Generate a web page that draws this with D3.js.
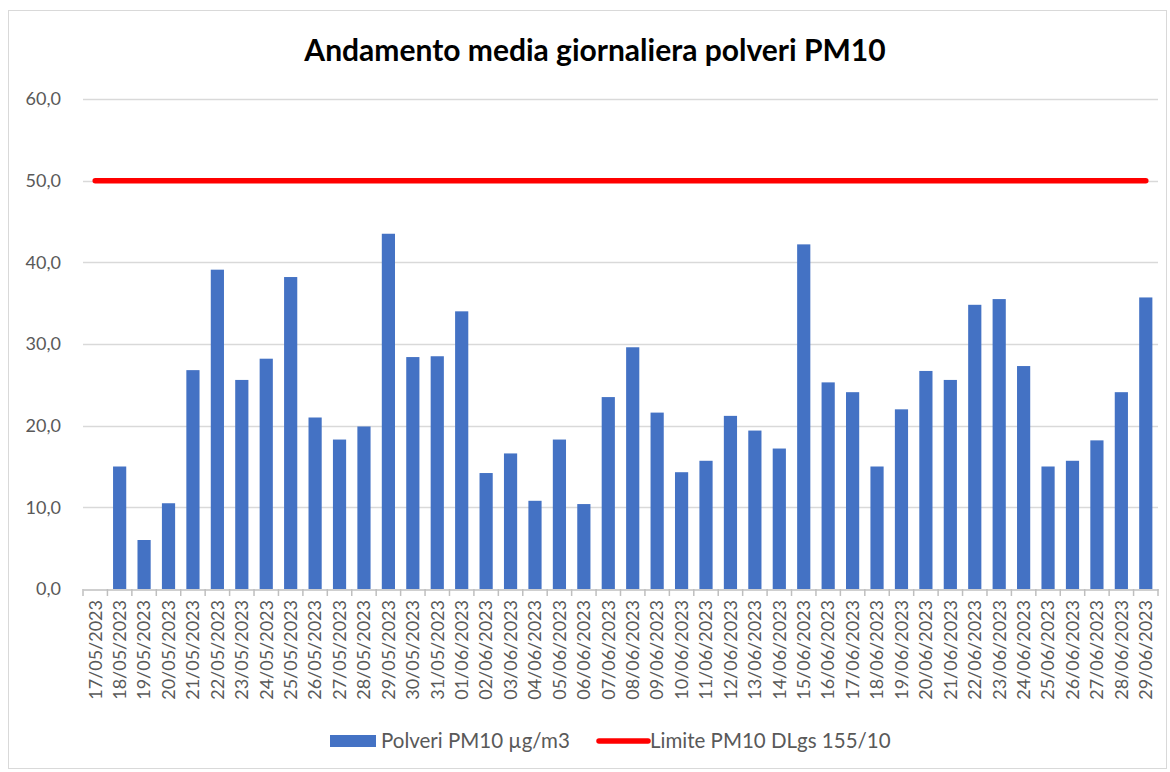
<!DOCTYPE html>
<html>
<head>
<meta charset="utf-8">
<script src="https://cdn.jsdelivr.net/npm/d3@7"></script>
<style>
  body { margin: 0; background: #fff; }
  svg { font-family: Lato, "Open Sans", sans-serif; }
</style>
</head>
<body>
<svg id="chart" width="1170" height="772"></svg>
<script>
// dates on the x axis
var dates = ["17/05/2023","18/05/2023","19/05/2023","20/05/2023","21/05/2023","22/05/2023","23/05/2023","24/05/2023",
  "25/05/2023","26/05/2023","27/05/2023","28/05/2023","29/05/2023","30/05/2023","31/05/2023","01/06/2023",
  "02/06/2023","03/06/2023","04/06/2023","05/06/2023","06/06/2023","07/06/2023","08/06/2023","09/06/2023",
  "10/06/2023","11/06/2023","12/06/2023","13/06/2023","14/06/2023","15/06/2023","16/06/2023","17/06/2023",
  "18/06/2023","19/06/2023","20/06/2023","21/06/2023","22/06/2023","23/06/2023","24/06/2023","25/06/2023",
  "26/06/2023","27/06/2023","28/06/2023","29/06/2023"];

// daily PM10 mean (null = no data)
var pm10 = [null, 15.0, 6.0, 10.5, 26.8, 39.1, 25.6, 28.2,
  38.2, 21.0, 18.3, 19.9, 43.5, 28.4, 28.5, 34.0,
  14.2, 16.6, 10.8, 18.3, 10.4, 23.5, 29.6, 21.6,
  14.3, 15.7, 21.2, 19.4, 17.2, 42.2, 25.3, 24.1,
  15.0, 22.0, 26.7, 25.6, 34.8, 35.5, 27.3, 15.0,
  15.7, 18.2, 24.1, 35.7];

var limite = 50;
var yTicks = [0, 10, 20, 30, 40, 50, 60];

var svg = d3.select("#chart");

// chart frame
svg.append("rect")
    .attr("x", 8.5).attr("y", 10.5)
    .attr("width", 1158).attr("height", 758)
    .attr("fill", "none")
    .attr("stroke", "#d9d9d9");

var x = d3.scaleBand().domain(dates).range([83, 1158]).padding(0);
var y = d3.scaleLinear().domain([0, 60]).range([589, 99]);
var fmt = function(v) { return d3.format(".1f")(v).replace(".", ","); };

// gridlines
svg.append("g").selectAll("line")
    .data(yTicks.filter(function(d) { return d > 0; }))
    .enter().append("line")
    .attr("x1", 83).attr("x2", 1158)
    .attr("y1", function(d) { return Math.round(y(d)) + 0.5; })
    .attr("y2", function(d) { return Math.round(y(d)) + 0.5; })
    .attr("stroke", "#d9d9d9")
    .attr("stroke-width", 1.5);

// y labels
svg.append("g").selectAll("text")
    .data(yTicks)
    .enter().append("text")
    .attr("x", 61)
    .attr("y", function(d) { return y(d); })
    .attr("dy", "0.35em")
    .attr("text-anchor", "end")
    .attr("fill", "#595959")
    .style("font-size", "18px")
    .text(fmt);

// bars
var bw = x.bandwidth() * 0.54;
svg.append("g").selectAll("rect")
    .data(dates.map(function(d, i) { return { date: d, v: pm10[i] }; }).filter(function(d) { return d.v != null; }))
    .enter().append("rect")
    .attr("x", function(d) { return x(d.date) + (x.bandwidth() - bw) / 2; })
    .attr("y", function(d) { return y(d.v); })
    .attr("width", bw)
    .attr("height", function(d) { return y(0) - y(d.v); })
    .attr("fill", "#4472c4");

// x axis
var xAxis = d3.axisBottom(x).tickSize(0).tickFormat("");
var gx = svg.append("g").attr("transform", "translate(0,589.5)").call(xAxis);
gx.select(".domain").attr("stroke", "#bfbfbf").attr("stroke-width", 1.5);
svg.append("g").selectAll("line")
    .data(d3.range(dates.length + 1))
    .enter().append("line")
    .attr("x1", function(i) { return 83 + i * x.step(); })
    .attr("x2", function(i) { return 83 + i * x.step(); })
    .attr("y1", 589).attr("y2", 596)
    .attr("stroke", "#bfbfbf")
    .attr("stroke-width", 1.5);

svg.append("g").selectAll("text")
    .data(dates)
    .enter().append("text")
    .attr("transform", function(d) { return "translate(" + (x(d) + x.bandwidth() / 2) + ",600) rotate(-90)"; })
    .attr("text-anchor", "end")
    .attr("dy", "0.35em")
    .attr("fill", "#595959")
    .style("font-size", "18px")
    .text(function(d) { return d; });

// limit line
var line = d3.line()
    .x(function(d) { return x(d) + x.bandwidth() / 2; })
    .y(function() { return y(limite); });
svg.append("path")
    .datum(dates)
    .attr("d", line)
    .attr("fill", "none")
    .attr("stroke", "#ff0000")
    .attr("stroke-width", 5.5)
    .attr("stroke-linecap", "round");

// title
svg.append("text")
    .attr("x", 595)
    .attr("y", 61)
    .attr("text-anchor", "middle")
    .attr("fill", "#000")
    .style("font-size", "30px")
    .style("font-weight", "bold")
    .text("Andamento media giornaliera polveri PM10");

// legend
svg.append("rect")
    .attr("x", 330).attr("y", 735)
    .attr("width", 46).attr("height", 12)
    .attr("fill", "#4472c4");
svg.append("text")
    .attr("x", 381).attr("y", 741)
    .attr("dy", "0.35em")
    .attr("fill", "#595959")
    .style("font-size", "20.5px")
    .text("Polveri PM10 µg/m3");
svg.append("line")
    .attr("x1", 599).attr("x2", 648)
    .attr("y1", 741).attr("y2", 741)
    .attr("stroke", "#ff0000")
    .attr("stroke-width", 5.5)
    .attr("stroke-linecap", "round");
svg.append("text")
    .attr("x", 650).attr("y", 741)
    .attr("dy", "0.35em")
    .attr("fill", "#595959")
    .style("font-size", "20.5px")
    .text("Limite PM10 DLgs 155/10");
</script>
</body>
</html>
